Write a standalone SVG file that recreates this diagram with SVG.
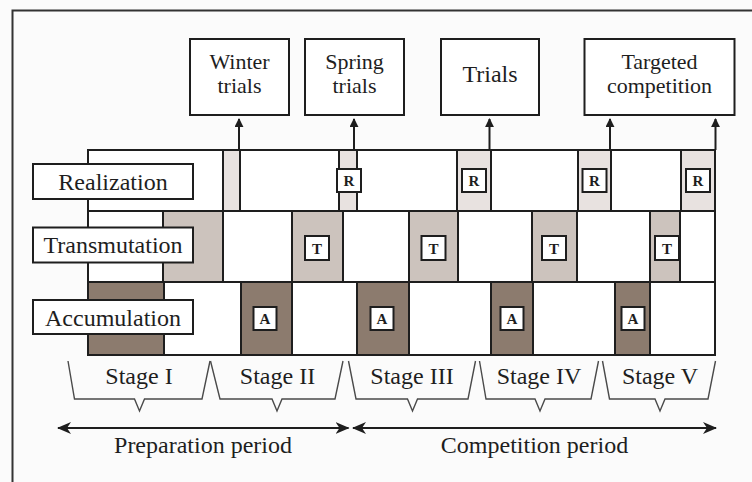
<svg xmlns="http://www.w3.org/2000/svg" width="752" height="482" viewBox="0 0 752 482">
  <defs>
    <style>
      .txt { font-family: "Liberation Serif", "Times New Roman", serif; font-size: 24px; fill: #1e1e1e; text-anchor: middle; }
      .two { font-size: 22px; }
      .tag { font-family: "Liberation Serif", "Times New Roman", serif; font-size: 15px; font-weight: bold; fill: #1e1e1e; text-anchor: middle; }
      .box { fill: #ffffff; stroke: #1e1e1e; stroke-width: 2; }
      .cell { fill: #ffffff; stroke: #1e1e1e; stroke-width: 2; }
      .r { fill: #e8e2e0; }
      .t { fill: #ccc3bd; }
      .a { fill: #8c7b6e; }
      .brace { fill: none; stroke: #4a4a4a; stroke-width: 1.4; stroke-linejoin: miter; }
      .link { stroke: #1e1e1e; stroke-width: 2; fill: none; }
    </style>
    <marker id="tri" viewBox="0 0 10 10" refX="9" refY="5" markerWidth="9" markerHeight="9" markerUnits="userSpaceOnUse" orient="auto">
      <path d="M0,0 L10,5 L0,10 Z" fill="#1e1e1e"/>
    </marker>
    <marker id="barb" viewBox="0 0 14 12" refX="13" refY="6" markerWidth="14" markerHeight="12" markerUnits="userSpaceOnUse" orient="auto-start-reverse">
      <path d="M0,0 L14,6 L0,12 L4,6 Z" fill="#1e1e1e"/>
    </marker>
  </defs>

  <!-- page background and frame -->
  <rect x="0" y="0" width="752" height="482" fill="#fbfbfb"/>
  <rect x="12.5" y="10.5" width="760" height="500" fill="none" stroke="#333" stroke-width="2"/>

  <!-- event boxes -->
  <g id="winter-trials">
    <rect class="box" x="190" y="39" width="99" height="76"/>
    <text class="txt two" x="239.5" y="69">Winter</text>
    <text class="txt two" x="239.5" y="93">trials</text>
  </g>
  <g id="spring-trials">
    <rect class="box" x="305" y="39" width="99" height="76"/>
    <text class="txt two" x="354.5" y="69">Spring</text>
    <text class="txt two" x="354.5" y="93">trials</text>
  </g>
  <g id="trials">
    <rect class="box" x="441" y="39" width="98" height="76"/>
    <text class="txt" x="490" y="82">Trials</text>
  </g>
  <g id="targeted-competition">
    <rect class="box" x="584.5" y="39" width="150" height="76"/>
    <text class="txt two" x="659.5" y="69">Targeted</text>
    <text class="txt two" x="659.5" y="93">competition</text>
  </g>

  <!-- Realization row -->
  <g id="row-realization">
    <rect class="cell" x="88" y="150" width="135" height="61"/>
    <rect class="cell r" x="223" y="150" width="17" height="61"/>
    <rect class="cell" x="240" y="150" width="99" height="61"/>
    <rect class="cell r" x="339" y="150" width="18" height="61"/>
    <rect class="cell" x="357" y="150" width="100" height="61"/>
    <rect class="cell r" x="457" y="150" width="34" height="61"/>
    <rect class="cell" x="491" y="150" width="87" height="61"/>
    <rect class="cell r" x="578" y="150" width="33" height="61"/>
    <rect class="cell" x="611" y="150" width="70" height="61"/>
    <rect class="cell r" x="681" y="150" width="34" height="61"/>
    <rect class="box" x="337" y="169" width="24" height="23"/>
    <text class="tag" x="349" y="186">R</text>
    <rect class="box" x="462" y="169" width="24" height="23"/>
    <text class="tag" x="474" y="186">R</text>
    <rect class="box" x="582.5" y="169" width="24" height="23"/>
    <text class="tag" x="594.5" y="186">R</text>
    <rect class="box" x="686" y="169" width="24" height="23"/>
    <text class="tag" x="698" y="186">R</text>
  </g>

  <!-- Transmutation row -->
  <g id="row-transmutation">
    <rect class="cell" x="88" y="211" width="75" height="71"/>
    <rect class="cell t" x="163" y="211" width="60" height="71"/>
    <rect class="cell" x="223" y="211" width="69" height="71"/>
    <rect class="cell t" x="292" y="211" width="51" height="71"/>
    <rect class="cell" x="343" y="211" width="66" height="71"/>
    <rect class="cell t" x="409" y="211" width="49" height="71"/>
    <rect class="cell" x="458" y="211" width="74" height="71"/>
    <rect class="cell t" x="532" y="211" width="45" height="71"/>
    <rect class="cell" x="577" y="211" width="73" height="71"/>
    <rect class="cell t" x="650" y="211" width="30" height="71"/>
    <rect class="cell" x="680" y="211" width="35" height="71"/>
    <rect class="box" x="305" y="236" width="24" height="24"/>
    <text class="tag" x="317" y="253.5">T</text>
    <rect class="box" x="421.5" y="236" width="24" height="24"/>
    <text class="tag" x="433.5" y="253.5">T</text>
    <rect class="box" x="542" y="236" width="24" height="24"/>
    <text class="tag" x="554" y="253.5">T</text>
    <rect class="box" x="655" y="236" width="24" height="24"/>
    <text class="tag" x="667" y="253.5">T</text>
  </g>

  <!-- Accumulation row -->
  <g id="row-accumulation">
    <rect class="cell a" x="88" y="282" width="76" height="73"/>
    <rect class="cell" x="164" y="282" width="77" height="73"/>
    <rect class="cell a" x="241" y="282" width="51" height="73"/>
    <rect class="cell" x="292" y="282" width="65" height="73"/>
    <rect class="cell a" x="357" y="282" width="52" height="73"/>
    <rect class="cell" x="409" y="282" width="82" height="73"/>
    <rect class="cell a" x="491" y="282" width="42" height="73"/>
    <rect class="cell" x="533" y="282" width="82" height="73"/>
    <rect class="cell a" x="615" y="282" width="35" height="73"/>
    <rect class="cell" x="650" y="282" width="65" height="73"/>
    <rect class="box" x="253.5" y="307" width="23" height="23"/>
    <text class="tag" x="265" y="324">A</text>
    <rect class="box" x="370.5" y="307" width="23" height="23"/>
    <text class="tag" x="382" y="324">A</text>
    <rect class="box" x="500.5" y="307" width="23" height="23"/>
    <text class="tag" x="512" y="324">A</text>
    <rect class="box" x="621.5" y="307" width="23" height="23"/>
    <text class="tag" x="633" y="324">A</text>
  </g>

  <!-- row labels -->
  <g id="label-realization">
    <rect class="box" x="33" y="164" width="160" height="35"/>
    <text class="txt" x="113" y="190">Realization</text>
  </g>
  <g id="label-transmutation">
    <rect class="box" x="33" y="227.5" width="160" height="35"/>
    <text class="txt" x="113" y="252.5">Transmutation</text>
  </g>
  <g id="label-accumulation">
    <rect class="box" x="33" y="300" width="160" height="34"/>
    <text class="txt" x="113" y="326">Accumulation</text>
  </g>

  <!-- stage braces -->
  <g id="stages">
    <path class="brace" d="M68,361 L74.5,399 L134.5,399 L139.5,411 L144.5,399 L202,399 L210,361"/>
    <path class="brace" d="M210.5,361 L220,399 L272,399 L277,411 L282,399 L335,399 L343,361"/>
    <path class="brace" d="M348.5,361 L356,399 L407.5,399 L412.5,411 L417.5,399 L468,399 L475.5,361"/>
    <path class="brace" d="M479.5,361 L486,399 L535,399 L540,411 L545,399 L591,399 L598.5,361"/>
    <path class="brace" d="M602.5,361 L609.5,399 L655,399 L660,411 L665,399 L708,399 L715.5,361"/>
    <text class="txt" x="139" y="384">Stage I</text>
    <text class="txt" x="277.5" y="384">Stage II</text>
    <text class="txt" x="412" y="384">Stage III</text>
    <text class="txt" x="539" y="384">Stage IV</text>
    <text class="txt" x="660" y="384">Stage V</text>
  </g>

  <!-- connectors -->
  <g id="connectors">
    <line class="link" x1="239" y1="150" x2="239" y2="119" marker-end="url(#tri)"/>
    <line class="link" x1="354" y1="150" x2="354" y2="119" marker-end="url(#tri)"/>
    <line class="link" x1="489.5" y1="150" x2="489.5" y2="119" marker-end="url(#tri)"/>
    <line class="link" x1="610" y1="150" x2="610" y2="119" marker-end="url(#tri)"/>
    <line class="link" x1="715.5" y1="150" x2="715.5" y2="119" marker-end="url(#tri)"/>
    <line class="link" x1="58" y1="428" x2="348.5" y2="428" marker-start="url(#barb)" marker-end="url(#barb)"/>
    <line class="link" x1="353" y1="428" x2="716" y2="428" marker-start="url(#barb)" marker-end="url(#barb)"/>
  </g>

  <!-- period captions -->
  <g id="periods">
    <text class="txt" x="203" y="453">Preparation period</text>
    <text class="txt" x="534.5" y="453">Competition period</text>
  </g>
</svg>
